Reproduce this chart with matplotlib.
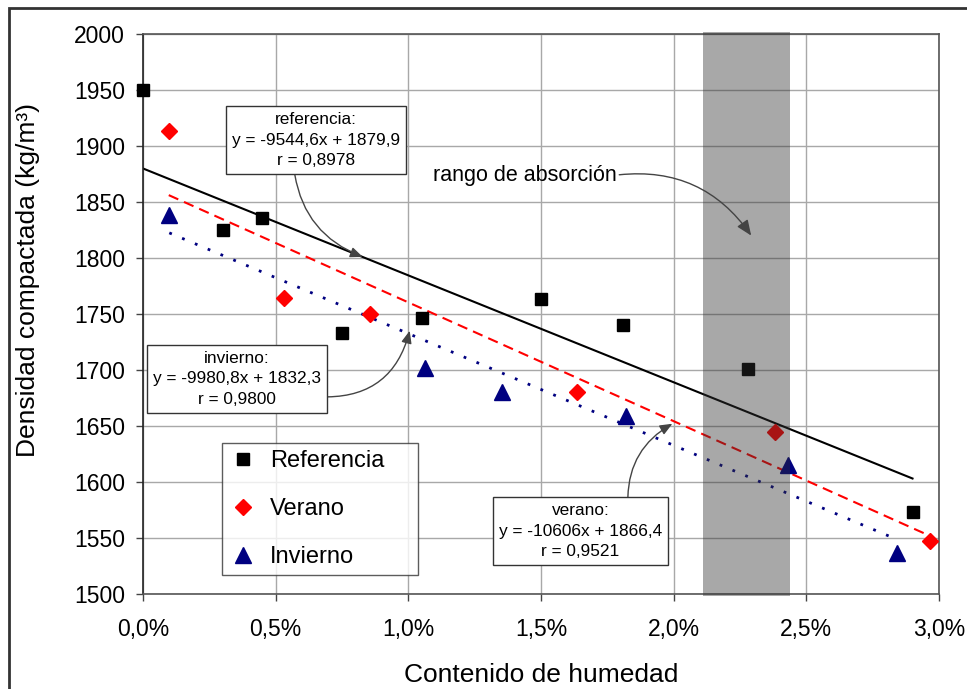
#!/usr/bin/env python
# -*- coding: utf-8 -*-

import matplotlib
matplotlib.use("Agg")
import matplotlib.pyplot as plt
import matplotlib.ticker as mticker
from matplotlib.patches import Rectangle
import numpy as np

# humedad (fraccion) y densidad compactada (kg/m3)
ref_x = [0.0, 0.0030, 0.00450, 0.0075, 0.0105, 0.0150, 0.0181, 0.0228, 0.0290]
ref_y = [1950, 1825, 1836, 1733, 1746, 1763, 1740, 1701, 1573]

ver_x = [0.00097, 0.0053, 0.00854, 0.01636, 0.02383, 0.02966]
ver_y = [1913, 1764, 1750, 1680, 1645, 1547]

inv_x = [0.00099, 0.01064, 0.01354, 0.01819, 0.0243, 0.02842]
inv_y = [1838, 1702, 1680, 1659, 1615, 1537]

# rectas de regresion (pendiente, ordenada, r)
ref_fit = [-9544.6, 1879.9, 0.8978]
ver_fit = [-10606, 1866.4, 0.9521]
inv_fit = [-9980.8, 1832.3, 0.9800]

# rango de absorcion
band = [0.02112, 0.02439]

series_names = ['Referencia', 'Verano', 'Invierno']
x_ticks = [0.0, 0.005, 0.010, 0.015, 0.020, 0.025, 0.030]
y_ticks = [1500, 1550, 1600, 1650, 1700, 1750, 1800, 1850, 1900, 1950, 2000]


def coma(v, dec=None):
    if dec is None:
        s = "%g" % v
    else:
        s = "%.*f" % (dec, v)
    return s.replace('.', ',')


def eq_text(name, fit):
    return "%s:\ny = %sx + %s\nr = %s" % (name, coma(fit[0]), coma(fit[1]), coma(fit[2], 4))


def main():
    plt.rcParams['font.family'] = ['Liberation Sans', 'DejaVu Sans']

    fig = plt.figure(figsize=(9.67, 6.89), dpi=100)
    ax = fig.add_axes([0.1479, 0.1379, 0.8232, 0.8128])

    # trend lines over the range of each series
    xr = np.array([min(ref_x), max(ref_x)])
    xv = np.array([min(ver_x), max(ver_x)])
    xi = np.array([min(inv_x), max(inv_x)])
    ax.plot(xr, ref_fit[0] * xr + ref_fit[1], color='black', lw=1.5, zorder=2)
    ax.plot(xv, ver_fit[0] * xv + ver_fit[1], color='red', lw=1.5,
            linestyle=(0, (5, 3)), zorder=2)
    ax.plot(xi, inv_fit[0] * xi + inv_fit[1], color='navy', lw=2,
            linestyle=(0, (1, 4)), zorder=2)

    ax.plot(ref_x, ref_y, 's', color='black', ms=8.5, label=series_names[0],
            zorder=3, clip_on=False)
    ax.plot(ver_x, ver_y, 'D', color='red', ms=8.5, label=series_names[1],
            zorder=3, clip_on=False)
    ax.plot(inv_x, inv_y, '^', color='navy', ms=11, label=series_names[2],
            zorder=3, clip_on=False)

    ax.axvspan(band[0], band[1], ymin=-0.004, ymax=1.004, color='#303030',
               alpha=0.42, lw=0, zorder=3.5, clip_on=False)

    ax.set_xlim(0, 0.03)
    ax.set_ylim(1500, 2000)
    ax.set_xticks(x_ticks)
    ax.set_yticks(y_ticks)
    ax.xaxis.set_major_formatter(mticker.FuncFormatter(lambda v, p: coma(v * 100, 1) + '%'))
    ax.grid(True, color='#a8a8a8', lw=1, zorder=0)
    ax.set_axisbelow(True)
    for s in ax.spines.values():
        s.set_color('#555555')
        s.set_linewidth(1.2)
    ax.spines['left'].set_color('#222222')
    ax.tick_params(axis='both', direction='out', length=5, width=1, color='#444444',
                   labelsize=16.5)
    ax.tick_params(axis='y', pad=8)
    ax.tick_params(axis='x', pad=12)

    ax.set_xlabel('Contenido de humedad', fontsize=19)
    ax.set_ylabel('Densidad compactada (kg/m³)', fontsize=19)
    ax.xaxis.set_label_coords(0.5, -0.123)
    ax.yaxis.set_label_coords(-0.13, 0.56)

    leg = ax.legend(loc='lower left', bbox_to_anchor=(0.099, 0.034, 0.246, 0.23),
                    mode='expand', borderaxespad=0,
                    fontsize=17, frameon=True, fancybox=False, edgecolor='#333333',
                    labelspacing=1.1, handletextpad=0.55, borderpad=0.3,
                    handlelength=1.2, numpoints=1)
    leg.get_frame().set_linewidth(1)
    leg.set_zorder(5)

    box = dict(boxstyle='square,pad=0.35', fc='white', ec='#333333', lw=1)

    def arrow(rel, rad):
        return dict(arrowstyle='-|>,head_length=0.6,head_width=0.25', color='#444444',
                    lw=1, relpos=rel, connectionstyle='arc3,rad=%s' % rad,
                    shrinkA=0, shrinkB=0)

    ax.annotate(eq_text('referencia', ref_fit), xy=(0.00828, 1801), xytext=(0.00651, 1905),
                ha='center', va='center', fontsize=12.4, linespacing=1.45, bbox=box,
                arrowprops=arrow((0.37, 0), 0.3), zorder=6)
    ax.annotate(eq_text('invierno', inv_fit), xy=(0.01005, 1735), xytext=(0.00354, 1692),
                ha='center', va='center', fontsize=12.4, linespacing=1.45, bbox=box,
                arrowprops=arrow((1, 0.18), 0.4), zorder=6)
    ax.annotate(eq_text('verano', ver_fit), xy=(0.01995, 1652), xytext=(0.01649, 1556),
                ha='center', va='center', fontsize=12.4, linespacing=1.45, bbox=box,
                arrowprops=arrow((0.79, 1), -0.3), zorder=6)
    ax.annotate('rango de absorción', xy=(0.02292, 1820), xytext=(0.01438, 1874),
                ha='center', va='center', fontsize=15.5,
                arrowprops=arrow((1, 0.5), -0.3), zorder=6)

    # outer frame of the original figure (only left/top visible)
    fig.patches.append(Rectangle((9 / 967, -0.1), 1.2, 1 - 8 / 689 + 0.1,
                                 transform=fig.transFigure, fill=False,
                                 ec='#333333', lw=2, clip_on=False))

    fig.savefig('out.png', dpi=100)


if __name__ == '__main__':
    main()
